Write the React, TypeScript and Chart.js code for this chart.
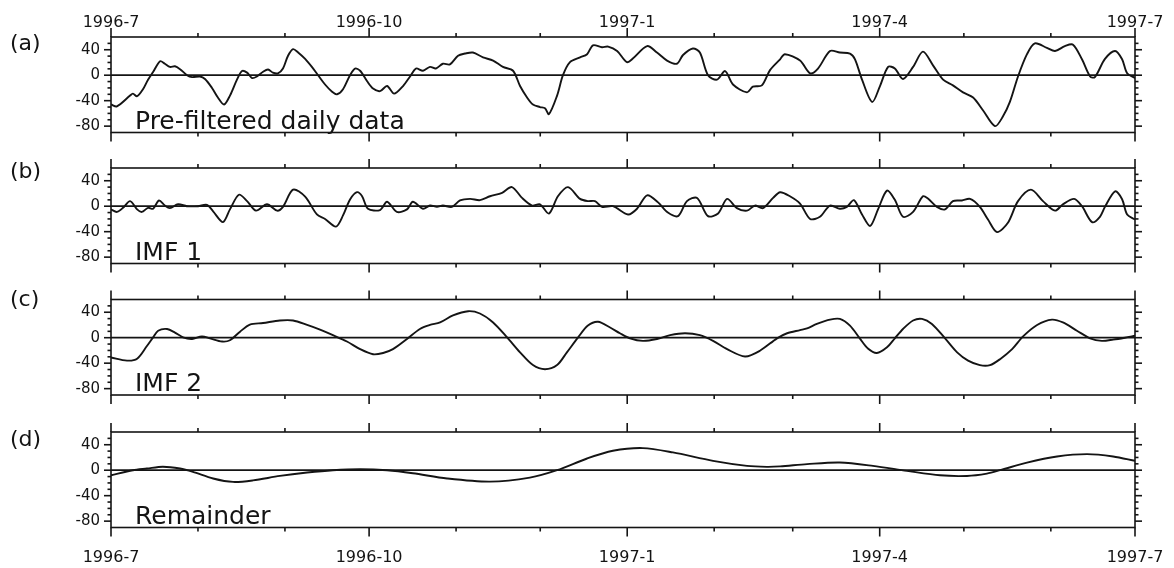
import React, { useEffect, useRef } from 'react';
import { Chart, registerables } from 'chart.js';

Chart.register(...registerables);

// ---- axis data ----
const MONTH_DAYS = [0, 31, 62, 92, 123, 153, 184, 215, 243, 274, 304, 335, 365];
const MONTH_LABELS = ['1996-7', '', '', '1996-10', '', '', '1997-1', '', '', '1997-4', '', '', '1997-7'];
const Y_LABEL_TICKS = [-80, -40, 0, 40];
const Y_MINOR_TICKS = [-80, -70, -60, -50, -40, -30, -20, -10, 0, 10, 20, 30, 40, 50];
const Y_MIN = -90;
const Y_MAX = 60;

const PANEL_LETTERS = ['(a)', '(b)', '(c)', '(d)'];
const PANEL_NAMES = ['Pre-filtered daily data', 'IMF 1', 'IMF 2', 'Remainder'];

// ---- series data (day since 1996-07-01, value) ----
const daysA = [0, 2.1, 6.8, 7.8, 9.3, 11.4, 13.2, 15, 17.5, 19.2, 21, 22.8, 24.6, 27.1, 28.9, 31.7, 33.5, 36, 38.1, 40.3, 42.4, 44.9, 46.7, 48.5, 50.3, 52, 54.2, 56, 57.7, 59.5, 61.3, 63.1, 64.9, 66.7, 69.2, 71.6, 73.8, 76.3, 78.8, 80.6, 82.7, 85.2, 87, 88.8, 91.3, 93.4, 95.9, 98.4, 100.9, 104.1, 106.6, 108.7, 111.2, 113.7, 115.8, 118.3, 120.8, 123.7, 126.2, 129, 132.6, 136.2, 139.7, 143.3, 145.8, 148.3, 150.4, 152.9, 154.7, 156.1, 159, 161.1, 163.6, 167.2, 169.7, 171.8, 175, 177.2, 180.4, 183.9, 186.1, 191.1, 194.6, 198.2, 201.7, 203.9, 207.4, 209.9, 212.8, 216, 218.9, 221.7, 226.7, 228.8, 232, 234.9, 238.5, 240.2, 245.6, 249.2, 252, 256.3, 259.8, 263.4, 265.2, 267.7, 271.3, 274.1, 277, 279.4, 282.3, 285.9, 289.4, 293, 296.6, 300.1, 303.7, 307.3, 310.8, 315.1, 317.9, 320.4, 323.3, 326.5, 329.3, 333.6, 336.5, 340, 342.9, 346.1, 349, 350.7, 354.3, 357.9, 360.4, 362.2, 365];
const valuesA = [-46, -49, -32, -29, -33, -22, -7, 5, 22, 18, 13, 14, 9.5, 0, -3, -2, -6, -20, -35, -46, -32, -7, 6.5, 4, -4.5, -2, 5.5, 9, 4, 3, 10.5, 30.6, 41, 35.7, 25.6, 13, 0, -14.6, -26, -30, -22, 0, 10.5, 7, -9.6, -21, -25, -17, -29, -17, -2, 10.5, 7, 13, 10.5, 18, 17, 30.6, 34, 35.6, 28, 23, 13, 7, -17, -35, -46, -50, -52, -61, -32, 0, 20.5, 28, 33, 47, 44, 45, 38, 20.5, 26.6, 45.7, 35.6, 23, 18, 31.7, 42, 35.6, 0, -7, 6.5, -14.6, -27, -18, -16, 8, 25, 33, 23, 3, 10.5, 38, 35.6, 34, 25, -7, -42, -17, 13, 10.5, -6, 13, 37, 15.5, -7, -16, -27, -35, -55, -80, -65, -42, -2, 33, 50, 43, 38, 45.7, 48, 25, -2, -3, 25.6, 38, 25, 3, -4.5];

const daysB = [0, 2.1, 4.3, 6.8, 9.3, 11, 13.2, 15, 17.1, 19.2, 21, 23.9, 27.1, 31, 34.2, 36.4, 39.9, 42.4, 45.6, 48.5, 51.7, 55.6, 59.2, 61.3, 64.9, 69.2, 73.4, 76.3, 80.2, 82.7, 85.2, 87.7, 89.5, 91.6, 95.9, 98.4, 101.9, 105.5, 107.6, 111.2, 113.7, 116.2, 118.3, 121.5, 124.4, 128, 131.5, 135.1, 139.4, 142.9, 146.5, 150.1, 152.9, 156.1, 159.3, 162.9, 167.2, 170, 172.5, 175, 178.9, 184.3, 187.5, 191.1, 195, 198.5, 202.1, 205.3, 208.9, 212.8, 216.4, 219.6, 223.1, 226.7, 229.5, 232.4, 236, 238.5, 242, 245.6, 249.2, 252.7, 256.3, 259.8, 262.3, 264.8, 267.7, 270.6, 273.4, 276.6, 279.4, 282.3, 285.9, 289.4, 291.2, 294.4, 297.3, 300.1, 303.3, 306.2, 309.7, 312.6, 315.8, 319.7, 323.3, 327.9, 332.2, 336.5, 339.3, 343.3, 346.1, 349.7, 352.5, 354.3, 357.9, 360.4, 362.2, 365];
const valuesB = [-5, -9, -2.5, 8, -5, -9, -2.5, -4, 9, 1, -3, 3, 0, 0, 2, -8, -25, -5, 18, 8, -7, 3, -7, -1, 26, 15, -13, -20, -32, -14.5, 10.5, 22, 15.6, -4, -6, 7, -9, -5, 7, -4, 1, -1, 1, -1, 9, 11.5, 9.5, 15.6, 21, 30, 13, 1, 3, -11.5, 15.6, 30, 11.5, 8, 8, -1, 0, -13, -4, 17, 6, -10, -15.6, 8, 13, -15.6, -11.5, 11.5, -3, -7, 1, -3, 13, 22, 15.6, 4, -20, -16.6, 1, -4, -1, 9.5, -13, -31, -5, 24.5, 10, -16.6, -9, 15.6, 12, -1, -5, 8, 9, 11.5, -1, -21, -40.6, -26, 8, 26, 8, -7, 3, 11.5, 0, -25, -16.6, -1, 23.4, 11, -13, -21];

const daysC = [0, 5.7, 9.3, 12.8, 15, 16.8, 20, 22.8, 25.7, 28.9, 32.4, 35.3, 39.6, 42.4, 46, 49.5, 54.2, 60.2, 64.9, 69.9, 74.5, 79.1, 84.1, 88.8, 93.4, 97, 100.5, 105.5, 110.1, 113.7, 117.3, 121.9, 127.3, 131.5, 136.2, 141.2, 145.8, 150.4, 154.7, 159, 162.5, 166.5, 170, 173.6, 177.9, 181.4, 185, 189.6, 194.6, 199.3, 204.6, 209.9, 214.6, 219.6, 226, 231.3, 237.4, 241, 245.6, 248.1, 251.6, 256.3, 259.8, 263.4, 266.9, 269.8, 273, 276.6, 279.4, 282.3, 285.9, 289.1, 292.6, 297.3, 301.6, 305.5, 309.7, 313.3, 316.9, 321.2, 325.1, 330.1, 335.4, 339.3, 344.3, 349, 353.2, 357.2, 361.4, 365];
const valuesC = [-31, -36, -33, -13, 0.5, 11, 13.7, 8, 0.5, -2, 2, -1, -6, -4, 9.5, 20.5, 23, 27, 27, 20, 12.6, 4, -6, -18, -26, -24, -18, -2, 13.7, 20, 24, 35, 41.6, 38, 24, 0.5, -23, -43, -49.5, -43, -23, 0.5, 19, 25, 16, 7, -1, -5, -2, 4, 7, 4, -5, -18, -29.5, -20.5, -1, 7, 12, 14.7, 21.6, 28.4, 29.5, 19, -1, -17, -24, -15, -1, 13.7, 27, 29.5, 21.6, -1, -23, -36, -43, -43, -33.7, -18, 2, 20, 28.4, 24, 11, -1, -5, -3, 0, 3];

const daysD = [0, 7.8, 12.8, 18.5, 24.6, 29.2, 36.4, 43.5, 50.6, 60.2, 69.9, 79.1, 88.8, 98.4, 107.6, 119.8, 135.1, 149.3, 159, 169.7, 178.9, 189.6, 200.3, 214.6, 226.7, 233.8, 238.5, 248.1, 259.8, 271.6, 283.7, 295.5, 305.1, 312.2, 316.9, 326.5, 337.2, 347.9, 357.2, 365];
const valuesD = [-8, 0, 2.6, 5.5, 2.6, -2.6, -13, -18.4, -16, -9, -3.7, 0, 1.6, 0, -4.7, -13, -18, -11.6, 0, 18.4, 30.5, 34.7, 27.9, 14.7, 6.8, 5.3, 6, 9.5, 12, 6.8, -1, -8, -9, -5.3, 0, 12, 21.6, 25.3, 21.6, 14.7];

const SERIES_DAYS = [daysA, daysB, daysC, daysD];
const SERIES_VALUES = [valuesA, valuesB, valuesC, valuesD];

// ---- layout (pixels) ----
const W = 1174;
const H = 568;
const PLOT_LEFT = 111;
const PLOT_RIGHT = 1135;
const PANEL_TOPS = [37, 168, 299.5, 432];
const PANEL_H = 95.5;
const LETTER_Y = [44, 172, 300, 440];
const FONT = '"DejaVu Sans", "Liberation Sans", sans-serif';
const INK = '#141414';

const framePlugin = {
  id: 'frame',
  afterDatasetsDraw(chart: any, _args: any, opts: any) {
    const { ctx, chartArea } = chart;
    const { left, right, top, bottom } = chartArea;
    const x = chart.scales.x;
    const y = chart.scales.y;
    const line = (x1: number, y1: number, x2: number, y2: number) => {
      ctx.beginPath();
      ctx.moveTo(x1, y1);
      ctx.lineTo(x2, y2);
      ctx.stroke();
    };
    ctx.save();
    ctx.strokeStyle = INK;
    ctx.lineWidth = 1.6;
    ctx.lineCap = 'butt';
    ctx.strokeRect(left, top, right - left, bottom - top);
    const y0 = y.getPixelForValue(0);
    ctx.lineWidth = 1.8;
    line(left, y0, right, y0);
    ctx.lineWidth = 1.6;
    MONTH_DAYS.forEach((d, i) => {
      const px = x.getPixelForValue(d);
      const len = i % 3 === 0 ? 9 : 4;
      line(px, top, px, top - len);
      line(px, bottom, px, bottom + len);
    });
    Y_MINOR_TICKS.forEach((v) => {
      const py = y.getPixelForValue(v);
      const len = v % 40 === 0 ? 7 : 3.5;
      line(left, py, left - len, py);
      line(right, py, right + len, py);
    });
    ctx.fillStyle = INK;
    ctx.textAlign = 'left';
    ctx.textBaseline = 'middle';
    ctx.font = `22px ${FONT}`;
    ctx.fillText(opts.letter, 10, opts.letterY);
    ctx.textBaseline = 'alphabetic';
    ctx.font = `25px ${FONT}`;
    ctx.fillText(opts.name, left + 24, bottom - 4);
    ctx.restore();
  },
};

function makeConfig(i: number): any {
  const top = PANEL_TOPS[i];
  const bottom = top + PANEL_H;
  const isTop = i === 0;
  const isBottom = i === 3;
  const showX = isTop || isBottom;
  const data = SERIES_DAYS[i].map((d, k) => ({ x: d, y: SERIES_VALUES[i][k] }));
  return {
    type: 'line',
    data: {
      datasets: [
        {
          data,
          borderColor: INK,
          borderWidth: 1.9,
          pointRadius: 0,
          tension: 0.3,
          fill: false,
        },
      ],
    },
    plugins: [framePlugin],
    options: {
      responsive: false,
      devicePixelRatio: 1,
      animation: false,
      events: [],
      layout: {
        padding: {
          left: 0,
          right: W - PLOT_RIGHT,
          top: isTop ? 0 : top,
          bottom: isBottom ? 0 : H - bottom,
        },
      },
      plugins: {
        legend: { display: false },
        tooltip: { enabled: false },
        frame: { letter: PANEL_LETTERS[i], name: PANEL_NAMES[i], letterY: LETTER_Y[i] },
      },
      scales: {
        x: {
          type: 'linear',
          display: showX,
          position: isTop ? 'top' : 'bottom',
          min: MONTH_DAYS[0],
          max: MONTH_DAYS[MONTH_DAYS.length - 1],
          afterBuildTicks: (scale: any) => {
            scale.ticks = MONTH_DAYS.map((v) => ({ value: v }));
          },
          afterFit: (scale: any) => {
            if (showX) scale.height = isTop ? top : H - bottom;
          },
          grid: { display: false, drawTicks: true, tickLength: isTop ? 1 : 17 },
          border: { display: false },
          ticks: {
            autoSkip: false,
            maxRotation: 0,
            color: INK,
            padding: 4,
            font: { family: FONT, size: 16 },
            callback: (_v: any, idx: number) => MONTH_LABELS[idx],
          },
        },
        y: {
          type: 'linear',
          min: Y_MIN,
          max: Y_MAX,
          afterBuildTicks: (scale: any) => {
            scale.ticks = Y_LABEL_TICKS.map((v) => ({ value: v }));
          },
          afterFit: (scale: any) => {
            scale.width = PLOT_LEFT;
          },
          grid: { display: false, drawTicks: false },
          border: { display: false },
          ticks: {
            color: INK,
            padding: 11,
            font: { family: FONT, size: 15 },
            callback: (v: any) => String(v),
          },
        },
      },
    },
  };
}

export default function App() {
  const refs = [useRef<HTMLCanvasElement>(null), useRef<HTMLCanvasElement>(null), useRef<HTMLCanvasElement>(null), useRef<HTMLCanvasElement>(null)];
  useEffect(() => {
    const charts = refs.map((r, i) => new Chart(r.current as HTMLCanvasElement, makeConfig(i)));
    return () => charts.forEach((c) => c.destroy());
  }, []);
  return (
    <div style={{ position: 'absolute', left: 0, top: 0, width: W, height: H, background: '#fff' }}>
      {refs.map((r, i) => (
        <canvas key={i} ref={r} width={W} height={H} style={{ position: 'absolute', left: 0, top: 0 }} />
      ))}
    </div>
  );
}
